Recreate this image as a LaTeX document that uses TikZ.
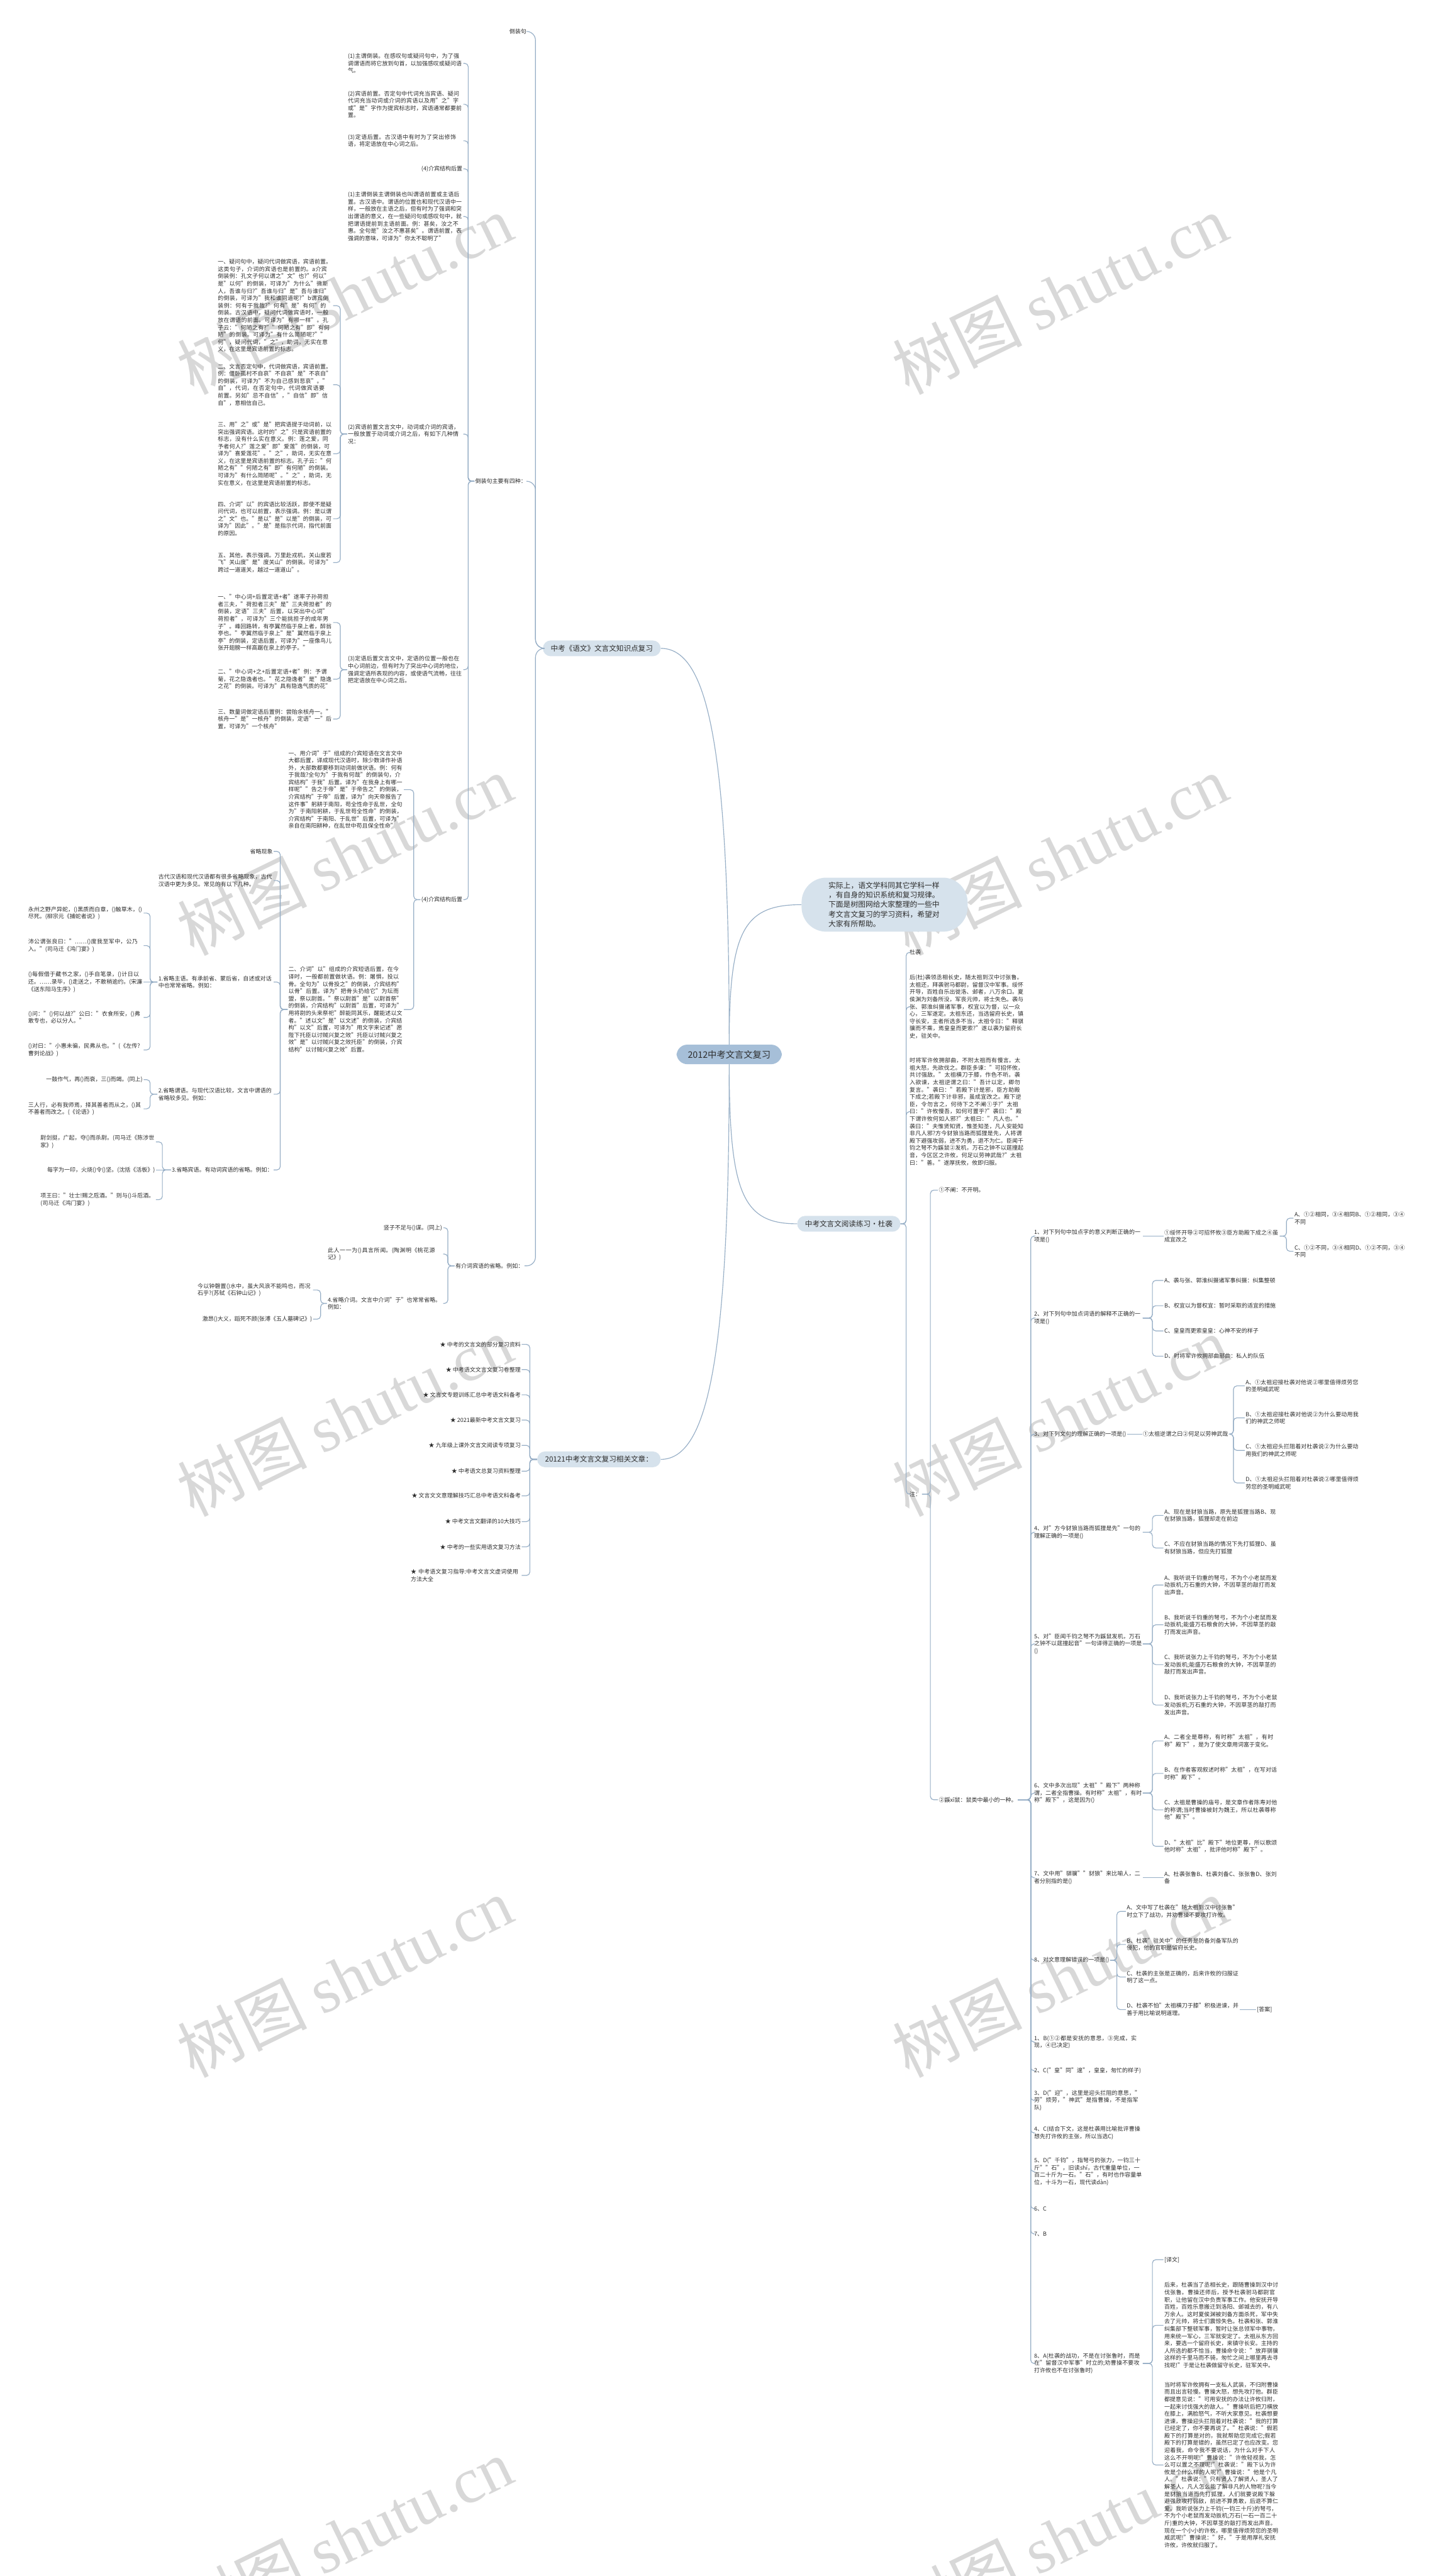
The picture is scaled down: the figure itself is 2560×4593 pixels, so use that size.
\documentclass[tikz,border=0pt]{standalone}
\usepackage{fontspec}
\setmainfont{Noto Sans CJK SC}
\newfontfamily\wmlat{Liberation Serif}
\XeTeXlinebreaklocale "zh"
\XeTeXlinebreakskip=0pt plus 1pt
\definecolor{lc}{RGB}{150,174,198}
\definecolor{tc}{RGB}{45,45,45}
\definecolor{nca}{RGB}{166,191,216}
\definecolor{ncb}{RGB}{214,226,236}
\definecolor{wmc}{RGB}{216,216,216}
\newcommand\sm{\fontsize{10.1}{13}\selectfont}
\newcommand\lcon[3]{\draw[cn] (#1.west) -- ++(-#3,0) |- (#2.east);}
\newcommand\rcon[3]{\draw[cn] (#1.east) -- ++(#3,0) |- (#2.west);}
\tikzset{
 cn/.style={draw=lc,line width=1.3,rounded corners=6},
 tt/.style={font=\sm,text=tc,inner sep=1.5},
 bl/.style={tt,text width=204,align=left,anchor=east},
 br/.style={tt,text width=204,align=left,anchor=west},
 bq/.style={tt,text width=192,align=left,anchor=west},
 sl/.style={tt,anchor=east},
 sr/.style={tt,anchor=west},
 topic/.style={font=\fontsize{13}{16}\selectfont,text=tc,fill=ncb,rounded corners=14,inner xsep=14,inner ysep=8},
 central/.style={font=\fontsize{16}{19}\selectfont,text=tc,fill=nca,rounded corners=19,inner xsep=20,inner ysep=10},
 intro/.style={font=\fontsize{13.2}{17}\selectfont,text=tc,fill=ncb,rounded corners=44,inner xsep=48,inner ysep=8,text width=200,align=left},
 wm/.style={font=\fontsize{115}{115}\selectfont,text=wmc,anchor=base west,rotate=26,inner sep=0},
}
\begin{document}
\begin{tikzpicture}[x=1pt,y=-1pt]
\useasboundingbox (0,0) rectangle (2560,4593);
\fill[white] (0,0) rectangle (2560,4593);
% watermarks
\foreach \yy in {705,1705,2705,3705,4705}{
 \node[wm] (wl\yy) at (345,\yy) {树图 {\wmlat shutu.cn}};
 \node[wm] (wr\yy) at (1620,\yy) {树图 {\wmlat shutu.cn}};
}
% central and main topics
\node[central] (C) at (1300,1880) {2012中考文言文复习};
\node[topic,anchor=east] (L0) at (1178,1156) {中考《语文》文言文知识点复习};
\node[topic,anchor=east] (R2) at (1178,2602) {20121中考文言文复习相关文章：};
\node[topic,anchor=west] (R3) at (1421,2182) {中考文言文阅读练习·杜袭};
\node[intro] (R1) at (1577,1613) {实际上，语文学科同其它学科一样\\，有自身的知识系统和复习规律。\\下面是树图网给大家整理的一些中\\考文言文复习的学习资料，希望对\\大家有所帮助。};
\draw[cn] (C.north) .. controls (1300,1330) and (1262,1156) .. (L0.east);
\draw[cn] (C.north) .. controls (1300,1660) and (1325,1613) .. (R1.west);
\draw[cn] (C.south) .. controls (1300,2130) and (1325,2182) .. (R3.west);
\draw[cn] (C.south) .. controls (1300,2420) and (1262,2602) .. (R2.east);
% ---------- left: knowledge points ----------
\node[sl] (La) at (940,56) {倒装句};
\node[sl] (Lb) at (940,858) {倒装句主要有四种：};
\node[sl] (Lc) at (935,2257) {有介词宾语的省略。例如：};
\node[bl] (b1) at (826,113) {(1)主谓倒装。在感叹句或疑问句中，为了强调谓语而将它放到句首，以加强感叹或疑问语气。};
\node[bl] (b2) at (826,186) {(2)宾语前置。否定句中代词充当宾语、疑问代词充当动词或介词的宾语以及用"之"字或"是"字作为提宾标志时，宾语通常都要前置。};
\node[bl] (b3) at (826,251) {(3)定语后置。古汉语中有时为了突出修饰语，将定语放在中心词之后。};
\node[sl] (b4) at (826,301) {(4)介宾结构后置};
\node[bl] (b5) at (826,386) {(1)主谓倒装主谓倒装也叫谓语前置或主语后置。古汉语中。谓语的位置也和现代汉语中一样，一般放在主语之后，但有时为了强调和突出谓语的意义，在一些疑问句或感叹句中，就把谓语提前到主语前面。例：甚矣，汝之不惠。全句是"汝之不惠甚矣"。谓语前置，表强调的意味，可译为"你太不聪明了"};
\node[bl] (b6) at (826,774) {(2)宾语前置文言文中，动词或介词的宾语，一般放置于动词或介词之后，有如下几种情况：};
\node[bl] (b7) at (826,1194) {(3)定语后置文言文中，定语的位置一般也在中心词前边，但有时为了突出中心词的地位，强调定语所表现的内容，或使语气流畅，往往把定语放在中心词之后。};
\node[sl] (b8) at (826,1604) {(4)介宾结构后置};
\node[bl] (b6a) at (594,545) {一、疑问句中，疑问代词做宾语，宾语前置。这类句子，介词的宾语也是前置的。a介宾倒装例：孔文子何以谓之"文"也?"何以"是"以何"的倒装，可译为"为什么"微斯人，吾谁与归?"吾谁与归"是"吾与谁归"的倒装，可译为"我和谁同道呢?"b谓宾倒装例：何有于我哉?"何有"是"有何"的倒装。古汉语中，疑问代词做宾语时，一般放在谓语的前面。可译为"有哪一样"。孔子云："何陋之有?""何陋之有"即"有何陋"的倒装。可译为"有什么简陋呢?""何"，疑问代词，"之"，助词，无实在意义，在这里是宾语前置的标志。};
\node[bl] (b6b) at (594,686) {二、文言否定句中，代词做宾语，宾语前置。例：僵卧孤村不自哀"不自哀"是"不哀自"的倒装，可译为"不为自己感到悲哀"。"自"，代词，在否定句中，代词做宾语要前置。另如"忌不自信"，"自信"即"信自"，意相信自己。};
\node[bl] (b6c) at (594,809) {三、用"之"或"是"把宾语提于动词前，以突出强调宾语。这时的"之"只是宾语前置的标志，没有什么实在意义。例：莲之爱，同予者何人?"莲之爱"即"爱莲"的倒装，可译为"喜爱莲花"。"之"，助词，无实在意义，在这里是宾语前置的标志。孔子云："何陋之有""何陋之有"即"有何陋"的倒装。可译为"有什么简陋呢"。"之"，助词，无实在意义，在这里是宾语前置的标志。};
\node[bl] (b6d) at (594,925) {四、介词"以"的宾语比较活跃，即使不是疑问代词，也可以前置，表示强调。例：是以谓之"文"也。"是以"是"以是"的倒装，可译为"因此"。"是"是指示代词，指代前面的原因。};
\node[bl] (b6e) at (594,1003) {五、其他，表示强调。万里赴戎机，关山度若飞"关山度"是"度关山"的倒装。可译为"跨过一道道关，越过一道道山"。};
\node[bl] (b7a) at (594,1110) {一、"中心词+后置定语+者"遂率子孙荷担者三夫，"荷担者三夫"是"三夫荷担者"的倒装，定语"三夫"后置，以突出中心词"荷担者"，可译为"三个能挑担子的成年男子"。峰回路转，有亭翼然临于泉上者，醉翁亭也。"亭翼然临于泉上"是"翼然临于泉上亭"的倒装，定语后置，可译为"一座像鸟儿张开翅膀一样高踞在泉上的亭子。"};
\node[bl] (b7b) at (594,1211) {二、"中心词+之+后置定语+者"例：予谓菊，花之隐逸者也。"花之隐逸者"是"隐逸之花"的倒装。可译为"具有隐逸气质的花"};
\node[bl] (b7c) at (594,1282) {三、数量词做定语后置例：尝贻余核舟一。"核舟一"是"一核舟"的倒装，定语"一"后置，可译为"一个核舟"};
\node[bl] (b8a) at (720,1408) {一、用介词"于"组成的介宾短语在文言文中大都后置，译成现代汉语时，除少数译作补语外，大部数都要移到动词前做状语。例：何有于我哉?全句为"于我有何哉"的倒装句，介宾结构"于我"后置。译为"在我身上有哪一样呢""告之于帝"是"于帝告之"的倒装，介宾结构"于帝"后置，译为"向天帝报告了这件事"躬耕于南阳，苟全性命于乱世，全句为"于南阳躬耕，于乱世苟全性命"的倒装，介宾结构"于南阳、于乱世"后置，可译为"亲自在南阳耕种，在乱世中苟且保全性命"};
\node[bl] (b8b) at (720,1800) {二、介词"以"组成的介宾短语后置，在今译时，一般都前置做状语。例：屠惧，投以骨。全句为"以骨投之"的倒装，介宾结构"以骨"后置。译为"把骨头扔给它"为坛而盟，祭以尉首。"祭以尉首"是"以尉首祭"的倒装，介宾结构"以尉首"后置，可译为"用将尉的头来祭祀"醉能同其乐，醒能述以文者。"述以文"是"以文述"的倒装，介宾结构"以文"后置，可译为"用文字来记述"愿陛下托臣以讨贼兴复之效"托臣以讨贼兴复之效"是"以讨贼兴复之效托臣"的倒装，介宾结构"以讨贼兴复之效"后置。};
\node[sl] (s0) at (488,1518) {省略现象};
\node[bl] (s1) at (488,1570) {古代汉语和现代汉语都有很多省略现象，古代汉语中更为多见。常见的有以下几种。};
\node[bl] (s2) at (488,1751) {1.省略主语。有承前省、蒙后省，自述或对话中也常常省略。例如：};
\node[bl] (s3) at (488,1951) {2.省略谓语。与现代汉语比较，文言中谓语的省略较多见。例如：};
\node[sl] (s4) at (488,2086) {3.省略宾语。有动词宾语的省略。例如：};
\node[bl] (s2a) at (256,1628) {永州之野产异蛇，()黑质而白章，()触草木，()尽死。(柳宗元《捕蛇者说》)};
\node[bl] (s2b) at (256,1686) {沛公谓张良曰："……()度我至军中，公乃入。"(司马迁《鸿门宴》)};
\node[bl] (s2c) at (256,1751) {()每假借于藏书之家，()手自笔录，()计日以还。……录毕，()走送之，不敢稍逾约。(宋濂《送东阳马生序》)};
\node[bl] (s2d) at (256,1814) {()问："()何以战?"公曰："衣食所安，()弗敢专也，必以分人。"};
\node[bl] (s2e) at (256,1872) {()对曰："小惠未徧，民弗从也。"(《左传?曹刿论战》)};
\node[sl] (s3a) at (256,1925) {一鼓作气，再()而衰，三()而竭。(同上)};
\node[bl] (s3b) at (256,1977) {三人行，必有我师焉，择其善者而从之，()其不善者而改之。(《论语》)};
\node[bl] (s4a) at (278,2036) {尉剑挺，广起，夺()而杀尉。(司马迁《陈涉世家》)};
\node[sl] (s4b) at (278,2086) {每字为一印，火烧()令()坚。(沈括《活板》)};
\node[bl] (s4c) at (278,2139) {项王曰："壮士!赐之卮酒。"则与()斗卮酒。(司马迁《鸿门宴》)};
\node[sl] (c1) at (790,2189) {竖子不足与()谋。(同上)};
\node[bl] (c2) at (790,2236) {此人一一为()具言所闻。(陶渊明《桃花源记》)};
\node[bl] (c3) at (790,2324) {4.省略介词。文言中介词"于"也常常省略。例如：};
\node[bl] (c3a) at (558,2300) {今以钟磬置()水中，虽大风浪不能鸣也，而况石乎?(苏轼《石钟山记》)};
\node[sl] (c3b) at (558,2352) {激昂()大义，蹈死不顾(张溥《五人墓碑记》)};
% left connectors
\foreach \nn in {La,Lb,Lc}{\draw[cn,rounded corners=16] (L0.west) -- ++(-13,0) |- (\nn.east);}
\foreach \nn in {b1,b2,b3,b4,b5,b6,b7,b8}{\lcon{Lb}{\nn}{11}}
\foreach \nn in {b6a,b6b,b6c,b6d,b6e}{\lcon{b6}{\nn}{12}}
\foreach \nn in {b7a,b7b,b7c}{\lcon{b7}{\nn}{12}}
\foreach \nn in {b8a,b8b}{\lcon{b8}{\nn}{12}}
\foreach \nn in {s0,s1,s2,s3,s4}{\lcon{b8b}{\nn}{13}}
\foreach \nn in {s2a,s2b,s2d,s2e}{\lcon{s2}{\nn}{13}}
\draw[cn] (s2.west) -- (s2c.east);
\foreach \nn in {s3a,s3b}{\lcon{s3}{\nn}{13}}
\foreach \nn in {s4a,s4c}{\lcon{s4}{\nn}{15}}
\draw[cn] (s4.west) -- (s4b.east);
\foreach \nn in {c1,c2,c3}{\lcon{Lc}{\nn}{12}}
\foreach \nn in {c3a,c3b}{\lcon{c3}{\nn}{11}}
% ---------- left: related articles ----------
\node[sl] (w1) at (930,2397) {★ 中考的文言文的部分复习资料};
\node[sl] (w2) at (930,2442) {★ 中考语文文言文复习卷整理};
\node[sl] (w3) at (930,2487) {★ 文言文专题训练汇总中考语文科备考};
\node[sl] (w4) at (930,2532) {★ 2021最新中考文言文复习};
\node[sl] (w5) at (930,2577) {★ 九年级上课外文言文阅读专项复习};
\node[sl] (w6) at (930,2623) {★ 中考语文总复习资料整理};
\node[sl] (w7) at (930,2667) {★ 文言文文意理解技巧汇总中考语文科备考};
\node[sl] (w8) at (930,2713) {★ 中考文言文翻译的10大技巧};
\node[sl] (w9) at (930,2758) {★ 中考的一些实用语文复习方法};
\node[bl,text width=196] (w10) at (930,2809) {★ 中考语文复习指导:中考文言文虚词使用方法大全};
\foreach \nn in {w1,w2,w3,w4,w5,w6,w7,w8,w9,w10}{\lcon{R2}{\nn}{13}}
% ---------- right: reading practice ----------
\node[sr] (d1) at (1620,1698) {杜袭};
\node[br] (d2) at (1620,1795) {后(杜)袭领丞相长史，随太祖到汉中讨张鲁。太祖还，拜袭驸马都尉，留督汉中军事。绥怀开导，百姓自乐出徙洛、邺者，八万余口。夏侯渊为刘备所没，军丧元帅，将士失色。袭与张、郭淮纠摄诸军事，权宜以为督，以一众心，三军遂定。太祖东还，当选留府长史，镇守长安，主者所选多不当，太祖令曰："释骐骥而不乘，焉皇皇而更索?"遂以袭为留府长史，驻关中。};
\node[br] (d3) at (1620,1982) {时将军许攸拥部曲，不附太祖而有慢言。太祖大怒，先欲伐之。群臣多谏："可招怀攸，共讨强敌。"太祖横刀于膝，作色不听。袭入欲谏，太祖逆谓之曰："吾计以定，卿勿复言。"袭曰："若殿下计是邪，臣方助殿下成之;若殿下计非邪，虽成宜改之。殿下逆臣，令勿言之，何待下之不阐①乎?"太祖曰："许攸慢吾，如何可置乎?"袭曰："殿下谓许攸何如人邪?"太祖曰："凡人也。"袭曰："夫惟贤知贤，惟圣知圣，凡人安能知非凡人邪?方今豺狼当路而狐狸是先，人将谓殿下避强攻弱，进不为勇，退不为仁。臣闻千钧之弩不为鼷鼠②发机，万石之钟不以莛撞起音，今区区之许攸，何足以劳神武哉?"太祖曰："善。"遂厚抚攸，攸即归服。};
\node[sr] (d4) at (1620,2664) {注：};
\foreach \nn in {d1,d2,d3,d4}{\rcon{R3}{\nn}{10}}
\node[sr] (n1) at (1672,2122) {①不阐：不开明。};
\node[sr] (n2) at (1672,3209) {②鼷xī鼠：鼠类中最小的一种。};
\foreach \nn in {n1,n2}{\rcon{d4}{\nn}{15}}
\node[bq] (q1) at (1842,2204) {1、对下列句中加点字的意义判断正确的一项是()};
\node[bq] (q2) at (1842,2350) {2、对下列句中加点词语的解释不正确的一项是()};
\node[sr] (q3) at (1842,2557) {3、对下列文句的理解正确的一项是()};
\node[bq] (q4) at (1842,2732) {4、对"方今豺狼当路而狐狸是先"一句的理解正确的一项是()};
\node[bq] (q5) at (1842,2931) {5、对"臣闻千钧之弩不为鼷鼠发机，万石之钟不以莛撞起音"一句译得正确的一项是()};
\node[bq] (q6) at (1842,3197) {6、文中多次出现"太祖""殿下"两种称谓，二者全指曹操。有时称"太祖"，有时称"殿下"，这是因为()};
\node[bq] (q7) at (1842,3348) {7、文中用"骐骥""豺狼"来比喻人，二者分别指的是()};
\node[sr] (q8) at (1842,3495) {8、对文意理解错误的一项是()};
\node[bq] (a1) at (1842,3641) {1、B(①②都是安抚的意思，③完成，实现，④已决定)};
\node[sr] (a2) at (1842,3692) {2、C("皇"同"遑"，皇皇，匆忙的样子)};
\node[bq] (a3) at (1842,3745) {3、D("迎"，这里是迎头拦阻的意思，"劳"烦劳，"神武"是指曹操，不是指军队)};
\node[bq] (a4) at (1842,3803) {4、C(结合下文，这是杜袭用比喻批评曹操想先打许攸的主张，所以当选C)};
\node[bq] (a5) at (1842,3872) {5、D("千钧"，指弩弓的张力，一钧三十斤""石"，旧读shí，古代重量单位，一百二十斤为一石。"石"，有时也作容量单位，十斗为一石，现代读dàn)};
\node[sr] (a6) at (1842,3938) {6、C};
\node[sr] (a7) at (1842,3983) {7、B};
\node[bq] (a8) at (1842,4214) {8、A(杜袭的战功，不是在讨张鲁时，而是在"留督汉中军事"时立的;劝曹操不要攻打许攸也不在讨张鲁时)};
\foreach \nn in {q1,q2,q3,q4,q5,q6,q7,q8,a1,a2,a3,a4,a5,a6,a7,a8}{\rcon{n2}{\nn}{23}}
% question 1
\node[br] (q1x) at (2074,2204) {①绥怀开导②可招怀攸③臣方助殿下成之④虽成宜改之};
\draw[cn] (q1.east) -- (q1x.west);
\node[br,text width=200] (q1a) at (2306,2172) {A、①②相同，③④相同B、①②相同，③④不同};
\node[br,text width=200] (q1c) at (2306,2231) {C、①②不同，③④相同D、①②不同，③④不同};
\foreach \nn in {q1a,q1c}{\rcon{q1x}{\nn}{12}}
% question 2
\node[sr] (q2a) at (2074,2283) {A、袭与张、郭淮纠摄诸军事纠摄：纠集整顿};
\node[sr] (q2b) at (2074,2328) {B、权宜以为督权宜：暂时采取的适宜的措施};
\node[sr] (q2c) at (2074,2373) {C、皇皇而更索皇皇：心神不安的样子};
\node[sr] (q2d) at (2074,2418) {D、时将军许攸拥部曲部曲：私人的队伍};
\foreach \nn in {q2a,q2b,q2c,q2d}{\rcon{q2}{\nn}{17}}
% question 3
\node[sr] (q3x) at (2036,2557) {①太祖逆谓之曰②何足以劳神武哉};
\draw[cn] (q3.east) -- (q3x.west);
\node[br] (q3a) at (2219,2471) {A、①太祖迎接杜袭对他说②哪里值得烦劳您的圣明威武呢};
\node[br] (q3b) at (2219,2528) {B、①太祖迎接杜袭对他说②为什么要动用我们的神武之师呢};
\node[br] (q3c) at (2219,2586) {C、①太祖迎头拦阻着对杜袭说②为什么要动用我们的神武之师呢};
\node[br] (q3d) at (2219,2644) {D、①太祖迎头拦阻着对杜袭说②哪里值得烦劳您的圣明威武呢};
\foreach \nn in {q3a,q3b,q3c,q3d}{\rcon{q3x}{\nn}{8}}
% question 4
\node[br] (q4a) at (2074,2702) {A、现在是豺狼当路，原先是狐狸当路B、现在豺狼当路，狐狸却走在前边};
\node[br] (q4c) at (2074,2760) {C、不应在豺狼当路的情况下先打狐狸D、虽有豺狼当路，但应先打狐狸};
\foreach \nn in {q4a,q4c}{\rcon{q4}{\nn}{17}}
% question 5
\node[br] (q5a) at (2074,2826) {A、我听说千钧重的弩弓，不为个小老鼠而发动扳机;万石重的大钟，不因草茎的敲打而发出声音。};
\node[br] (q5b) at (2074,2897) {B、我听说千钧重的弩弓，不为个小老鼠而发动扳机;能盛万石粮食的大钟，不因草茎的敲打而发出声音。};
\node[br] (q5c) at (2074,2968) {C、我听说张力上千钧的弩弓，不为个小老鼠发动扳机;能盛万石粮食的大钟，不因草茎的敲打而发出声音。};
\node[br] (q5d) at (2074,3040) {D、我听说张力上千钧的弩弓，不为个小老鼠发动扳机;万石重的大钟，不因草茎的敲打而发出声音。};
\foreach \nn in {q5a,q5b,q5c,q5d}{\rcon{q5}{\nn}{17}}
% question 6
\node[br] (q6a) at (2074,3104) {A、二者全是尊称，有时称"太祖"，有时称"殿下"，是为了使文章用词富于变化。};
\node[br] (q6b) at (2074,3162) {B、在作者客观叙述时称"太祖"，在写对话时称"殿下"。};
\node[br] (q6c) at (2074,3227) {C、太祖是曹操的庙号，是文章作者陈寿对他的称谓;当时曹操被封为魏王，所以杜袭尊称他"殿下"。};
\node[br] (q6d) at (2074,3292) {D、"太祖"比"殿下"地位更尊，所以歌颂他时称"太祖"，批评他时称"殿下"。};
\foreach \nn in {q6a,q6b,q6c,q6d}{\rcon{q6}{\nn}{17}}
% question 7
\node[br] (q7x) at (2074,3348) {A、杜袭张鲁B、杜袭刘备C、张张鲁D、张刘备};
\draw[cn] (q7.east) -- (q7x.west);
% question 8
\node[br,text width=200] (q8a) at (2007,3408) {A、文中写了杜袭在"随太祖到汉中讨张鲁"时立下了战功，并劝曹操不要攻打许攸。};
\node[br,text width=200] (q8b) at (2007,3467) {B、杜袭"驻关中"的任务是防备刘备军队的侵犯，他的官职是留府长史。};
\node[br,text width=200] (q8c) at (2007,3525) {C、杜袭的主张是正确的，后来许攸的归服证明了这一点。};
\node[br,text width=200] (q8d) at (2007,3583) {D、杜袭不怕"太祖横刀于膝"积极进谏，并善于用比喻说明道理。};
\foreach \nn in {q8a,q8b,q8c,q8d}{\rcon{q8}{\nn}{12}}
\node[sr] (ans) at (2239,3583) {[答案]};
\draw[cn] (q8d.east) -- (ans.west);
% answer 8 translation
\node[sr] (yw) at (2074,4029) {[译文]};
\node[br] (t1) at (2074,4146) {后来，杜袭当了丞相长史，跟随曹操到汉中讨伐张鲁。曹操还师后，授予杜袭驸马都尉官职，让他留在汉中负责军事工作。他安抚开导百姓，百姓乐意搬迁到洛阳、邺城去的，有八万余人。这时夏侯渊被刘备方面杀死，军中失去了元帅，将士们震惊失色。杜袭和张、郭淮纠集部下整顿军事，暂时让张总领军中事物，用来统一军心，三军就安定了。太祖从东方回来，要选一个留府长史，来镇守长安。主持的人所选的都不恰当，曹操命令说："放弃骐骥这样的千里马而不骑，匆忙之间上哪里再去寻找呢!"于是让杜袭做留守长史，驻军关中。};
\node[br] (t2) at (2074,4395) {当时将军许攸拥有一支私人武装，不归附曹操而且出言轻慢。曹操大怒，想先攻打他。群臣都提意见说："可用安抚的办法让许攸归附，一起来讨伐强大的敌人。"曹操听后把刀横放在膝上，满脸怒气，不听大家意见。杜袭想要进谏，曹操迎头拦阻着对杜袭说："我的打算已经定了，你不要再说了。"杜袭说："假若殿下的打算是对的，我就帮助您完成它;假若殿下的打算是错的，虽然已定了也应改变。您迎着我，命令我不要说话，为什么对手下人这么不开明呢!"曹操说："许攸轻视我，怎么可以置之不理呢!"杜袭说："殿下认为许攸是个什么样的人呢?"曹操说："他是个凡人。"杜袭说："只有贤人了解贤人，圣人了解圣人，凡人怎么能了解非凡的人物呢?当今是豺狼当道而先打狐狸，人们就要说殿下躲避强敌攻打弱敌，前进不算勇敢，后退不算仁爱。我听说张力上千钧(一钧三十斤)的弩弓，不为个小老鼠而发动扳机;万石(一石一百二十斤)重的大钟，不因草茎的敲打而发出声音。现在一个小小的许攸，哪里值得烦劳您的圣明威武呢!"曹操说："好。"于是用厚礼安抚许攸，许攸就归服了。};
\foreach \nn in {yw,t1,t2}{\rcon{a8}{\nn}{17}}
\end{tikzpicture}
\end{document}
